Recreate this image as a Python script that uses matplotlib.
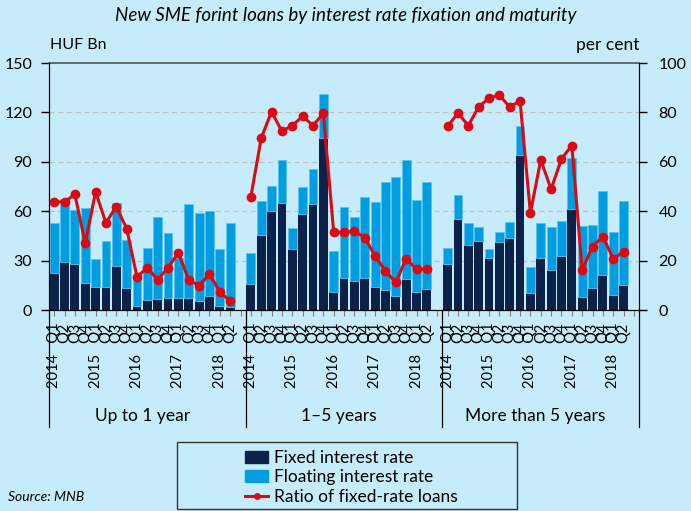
# -*- coding: utf-8 -*-
"""
New SME forint loans by interest rate fixation and maturity
"""

import numpy as np
import matplotlib.pyplot as plt
from matplotlib.patches import Patch, Rectangle
from matplotlib.lines import Line2D

# %% Data (HUF Bn, per cent)
quarters = ['Q1', 'Q2', 'Q3', 'Q4'] * 4 + ['Q1', 'Q2']
years = ['2014', '2015', '2016', '2017', '2018']
groups = ['Up to 1 year', '1\u20135 years', 'More than 5 years']

fixed_1 = [22.7, 29.4, 28.2, 16.6, 14.2, 14.2, 27.0, 13.6, 2.6, 6.1, 6.5, 7.5, 7.1, 7.5, 5.7, 8.7, 2.6, 1.6]
total_1 = [52.7, 67.3, 60.8, 62.0, 31.0, 42.2, 64.9, 42.6, 21.3, 37.7, 56.4, 46.8, 31.5, 64.3, 58.8, 60.4, 37.1, 52.7]
ratio_1 = [43.8, 43.8, 46.8, 27.0, 47.8, 35.3, 41.9, 33.0, 13.4, 17.2, 12.2, 17.2, 23.2, 12.2, 9.9, 14.5, 7.4, 3.6]

fixed_2 = [15.8, 45.8, 60.2, 65.1, 36.9, 58.6, 64.1, 104.6, 10.9, 19.7, 17.6, 19.7, 14.2, 12.2, 8.7, 18.9, 10.9, 12.6]
total_2 = [34.9, 66.3, 75.4, 90.8, 50.0, 74.8, 85.7, 131.4, 35.9, 62.4, 56.4, 68.7, 65.3, 78.0, 80.9, 91.2, 66.9, 78.0]
ratio_2 = [45.9, 69.6, 80.3, 72.3, 74.7, 78.4, 74.7, 79.6, 31.5, 31.5, 31.9, 29.3, 21.9, 15.8, 11.2, 20.8, 16.5, 16.5]

fixed_3 = [28.0, 55.3, 39.5, 42.0, 31.6, 41.4, 44.0, 94.3, 10.1, 31.6, 24.3, 32.8, 61.2, 7.9, 13.2, 21.3, 9.1, 15.2]
total_3 = [37.5, 69.7, 53.1, 50.7, 36.9, 47.4, 53.3, 111.7, 26.4, 53.1, 50.3, 54.1, 92.4, 51.3, 51.9, 72.4, 47.4, 66.3]
ratio_3 = [74.3, 79.7, 74.7, 82.2, 85.8, 87.0, 82.2, 84.7, 39.3, 60.8, 48.9, 61.2, 66.6, 16.2, 25.7, 29.7, 20.8, 23.5]

# %% Colours
bg = '#C6ECFC'
c_fixed = '#0D2249'
c_float = '#009EE0'
c_ratio = '#DA0A14'

# %% Assemble into one axis with a blank slot after each group
gap = [np.nan]
fixed = np.array(fixed_1 + gap + fixed_2 + gap + fixed_3 + gap)
total = np.array(total_1 + gap + total_2 + gap + total_3 + gap)
ratio = np.array(ratio_1 + gap + ratio_2 + gap + ratio_3 + gap)
floating = total - fixed
x = np.arange(len(fixed))

labels = []
for g in range(3):
    for i, q in enumerate(quarters):
        if q == 'Q1':
            labels.append(years[i // 4] + '   ' + q)
        else:
            labels.append(q)
    labels.append('')

plt.rcParams['font.family'] = ['Lato', 'DejaVu Sans']

fig = plt.figure(figsize=(6.91, 5.11), dpi=100, facecolor=bg)
ax = fig.add_axes([0.0709, 0.3933, 0.854, 0.4834])
ax.set_facecolor(bg)

ax.bar(x, fixed, width=0.85, color=c_fixed, zorder=2)
ax.bar(x, floating, width=0.85, bottom=fixed, color=c_float,
       edgecolor='#5CC3EE', linewidth=0.6, zorder=2)

ax.set_xlim(-0.5, len(x) - 0.5)
ax.set_ylim(0, 150)
ax.set_yticks([0, 30, 60, 90, 120, 150])
ax.grid(axis='y', linestyle=(0, (4, 3)), color='#BFBFBF', linewidth=0.9, zorder=0)
ax.tick_params(axis='y', labelsize=11.5, direction='out', length=6, width=1, pad=6)
ax.set_xticks(x)
ax.set_xticklabels(labels, rotation=90, fontsize=10.5, va='top')
ax.tick_params(axis='x', length=4, color='#808080', pad=5)

for s in ['left', 'right', 'bottom']:
    ax.spines[s].set_color('black')
ax.spines['top'].set_color('#555555')
ax.spines['top'].set_linewidth(1.2)

ax2 = ax.twinx()
ax2.plot(x, ratio, color=c_ratio, linewidth=2.2, marker='o', markersize=6, zorder=5)
ax2.set_ylim(0, 100)
ax2.set_yticks([0, 20, 40, 60, 80, 100])
ax2.tick_params(axis='y', labelsize=11.5, direction='out', length=6, width=1, pad=8)
ax2.spines['top'].set_visible(False)
ax2.spines['right'].set_color('black')

# group separators and labels
trans = ax.get_xaxis_transform()
for xs in [-0.5, 18.5, 37.5, 56.5]:
    ax.plot([xs, xs], [0, -0.475], transform=trans, color='black',
            linewidth=0.9, clip_on=False)
for g, name in enumerate(groups):
    ax.text(g * 19 + 8.5, -0.43, name, transform=trans, ha='center',
            va='center', fontsize=12.5)

fig.text(0.5, 0.97, 'New SME forint loans by interest rate fixation and maturity',
         ha='center', va='center', fontsize=13.5, style='italic')
fig.text(0.073, 0.912, 'HUF Bn', ha='left', va='center', fontsize=11.5)
fig.text(0.926, 0.912, 'per cent', ha='right', va='center', fontsize=12.5)
fig.text(0.012, 0.027, 'Source: MNB', ha='left', va='center', fontsize=10, style='italic')

# legend: frame drawn separately so it can be wider than its entries
fig.patches.append(Rectangle((177 / 691, 2 / 511), 340 / 691, 67 / 511,
                             transform=fig.transFigure, facecolor='none',
                             edgecolor='#333333', linewidth=1.0))
handles = [Patch(color=c_fixed), Patch(color=c_float),
           Line2D([], [], color=c_ratio, linewidth=2.2, marker='o', markersize=4)]
fig.legend(handles, ['Fixed interest rate', 'Floating interest rate',
                     'Ratio of fixed-rate loans'],
           loc='center left', bbox_to_anchor=(0.342, 0.066), frameon=False,
           fontsize=12.5, handlelength=1.35, handletextpad=0.3,
           labelspacing=0.2, borderpad=0.0)

fig.savefig('out.png', dpi=100, facecolor=bg)
